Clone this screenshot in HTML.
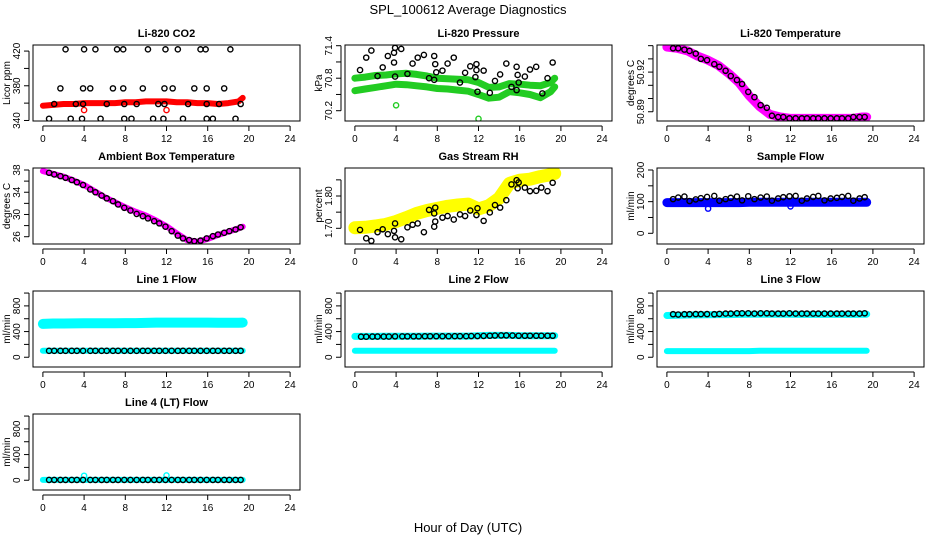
<!DOCTYPE html>
<html><head><meta charset="utf-8"><style>
body{margin:0;background:#fff}
svg{display:block;font-family:"Liberation Sans",sans-serif}
</style></head><body>
<svg id="chart" width="936" height="540" viewBox="0 0 936 540">
<rect width="936" height="540" fill="#fff"/>
<text x="468" y="14" text-anchor="middle" font-size="13">SPL_100612  Average Diagnostics</text>
<text x="468" y="532" text-anchor="middle" font-size="13">Hour of Day (UTC)</text>
</svg>
<script>
const hours=[0.6,1.1,1.7,2.2,2.8,3.3,3.9,4.6,5.1,5.7,6.2,6.8,7.3,7.9,8.5,9.1,9.7,10.2,10.8,11.3,11.9,12.5,13.1,13.6,14.2,14.7,15.3,15.9,16.5,17.0,17.6,18.1,18.7,19.2];
const bandT=[0,1,2,3,4,5,6,7,8,9,10,11,12,13,14,15,16,17,18,19,19.4];
const xTicks=[0,4,8,12,16,20,24];

const co2T=[2.2,4.0,5.1,7.2,7.8,10.2,11.9,13.1,15.3,15.8,18.2, 1.7,3.9,4.6,6.8,7.8,9.7,11.8,12.6,14.7,15.9,17.6, 1.1,3.2,3.9,6.2,7.9,9.1,11.2,11.8,14.1,15.9,17.1,19.2, 0.6,2.7,3.8,5.6,7.9,8.6,10.7,11.7,13.6,15.9,16.5,18.7];
const co2V=[422,422,422,422,422,422,422,422,422,422,422, 377,377,377,377,377,377,377,377,377,377,377, 359,359,359,359,359,359,359,359,359,359,359,359, 342,342,342,342,342,342,342,342,342,342,342,342];
const co2Band=[357,358,359,359,360,360,360,360,361,361,362,362,362,361,361,360,360,359,360,362,366];
const co2OutT=[4.0,12.0];
const co2OutV=[352,352];

const presT=[0.5,1.1,1.6,2.2,2.7,3.2,3.8,3.8,3.9,3.9,4.5,5.1,5.6,6.1,6.7,7.2,7.7,7.8,7.7,7.9,8.5,9.0,9.6,10.2,10.7,11.2,11.8,11.8,11.7,11.9,12.5,13.1,13.6,14.1,14.7,15.2,15.7,15.8,15.9,15.7,16.5,17.0,17.6,18.2,18.7,19.2];
const presV=[70.95,71.18,71.31,70.84,71.0,71.21,71.09,71.27,71.36,70.83,71.34,70.88,71.07,71.18,71.23,70.80,71.21,71.06,70.77,70.91,70.94,71.07,71.18,70.72,70.90,71.02,71.06,70.95,70.82,70.55,70.94,70.53,70.75,70.87,71.07,70.64,71.01,70.86,70.72,70.58,70.83,70.96,71.01,70.52,70.80,71.09];
const presUpper=[70.80,70.82,70.85,70.86,70.88,70.89,70.87,70.84,70.80,70.79,70.78,70.77,70.72,70.63,70.64,70.70,70.69,70.67,70.66,70.72,70.80];
const presLower=[70.57,70.60,70.63,70.66,70.69,70.68,70.66,70.64,70.61,70.60,70.58,70.56,70.50,70.43,70.45,70.55,70.53,70.50,70.44,70.55,70.64];
const presOutT=[4.0,12.0];
const presOutV=[70.30,70.05];

const tempBand=[50.939,50.938,50.936,50.932,50.929,50.925,50.919,50.912,50.902,50.894,50.888,50.886,50.885,50.885,50.885,50.885,50.885,50.885,50.885,50.886,50.886];
const tempV=[50.938,50.938,50.937,50.936,50.934,50.930,50.929,50.926,50.924,50.921,50.917,50.914,50.911,50.905,50.901,50.895,50.893,50.887,50.886,50.886,50.885,50.885,50.885,50.885,50.885,50.885,50.885,50.885,50.885,50.885,50.885,50.886,50.886,50.886];

const ambBand=[37.8,37.3,36.8,36.1,35.3,34.2,33.1,32.2,31.3,30.5,29.8,28.9,27.9,26.6,25.4,25.1,25.6,26.3,26.9,27.5,27.8];
const ambV=[37.5,37.2,36.9,36.6,36.2,35.8,35.3,34.5,34.0,33.4,32.9,32.4,31.8,31.2,30.7,30.1,29.7,29.3,28.8,28.4,27.8,27.0,26.2,25.7,25.4,25.2,25.3,25.7,26.1,26.4,26.7,27.0,27.3,27.7];

const rhT=[0.5,1.1,1.6,2.2,2.7,3.2,3.8,3.9,3.9,4.5,5.1,5.6,6.1,6.7,7.2,7.7,7.8,7.8,7.7,8.5,9.0,9.6,10.2,10.7,11.2,11.8,11.9,12.5,13.1,13.6,14.1,14.7,15.2,15.7,15.8,15.9,16.5,17.0,17.6,18.1,18.7,19.2];
const rhV=[1.695,1.669,1.661,1.688,1.697,1.682,1.692,1.715,1.672,1.666,1.703,1.711,1.715,1.688,1.757,1.746,1.764,1.721,1.705,1.733,1.738,1.727,1.743,1.738,1.755,1.741,1.762,1.723,1.749,1.772,1.764,1.787,1.836,1.849,1.824,1.842,1.826,1.815,1.816,1.826,1.815,1.841];
const rhBand=[1.702,1.703,1.707,1.712,1.721,1.733,1.746,1.755,1.762,1.768,1.772,1.775,1.760,1.770,1.793,1.839,1.849,1.852,1.860,1.866,1.870];

const sampleBand=[97,97,97,97,97,97,97,97,98,98,98,98,98,98,98,98,98,98,98,98,98];
const sampleV=[108,113,116,102,107,111,115,118,103,108,112,116,104,117,108,113,116,103,110,114,117,118,103,110,115,118,104,110,112,115,118,103,110,114];
const sampleOutT=[4.0,12.0];
const sampleOutV=[78,85];

const l1High=[520,525,525,528,530,530,530,530,532,532,535,540,540,540,540,540,540,538,538,538,540];
const l1Low=[100,100,100,100,100,100,100,100,100,100,100,100,100,100,100,100,100,100,100,100,100];
const l1V=[100,100,100,100,100,100,100,100,100,100,100,100,100,100,100,100,100,100,100,100,100,100,100,100,100,100,100,100,100,100,100,100,100,100];
const l2High=[325,325,325,328,328,328,328,330,330,330,330,330,335,340,340,340,335,335,335,335,335];
const l2Low=[100,100,100,100,100,100,100,100,100,100,100,100,100,100,100,100,100,100,100,100,100];
const l2V=[320,320,322,322,322,322,325,325,325,325,325,327,327,327,327,327,328,328,328,330,330,332,335,338,340,340,338,335,335,335,335,335,335,335];
const l3High=[650,655,658,660,662,665,665,668,670,670,670,670,670,668,668,668,668,668,668,670,670];
const l3Low=[95,95,95,95,95,95,95,95,95,100,100,100,100,100,100,100,100,100,100,100,100];
const l3V=[670,665,670,670,672,672,672,670,675,680,680,685,685,685,680,685,685,680,680,680,685,680,680,680,680,680,680,680,680,680,680,680,680,685];
const l4Band=[5,5,5,5,5,5,5,5,5,5,5,5,5,5,5,5,5,5,5,5,5];
const l4V=[5,5,5,5,5,5,5,5,5,5,5,5,5,5,5,5,5,5,5,5,5,5,5,5,5,5,5,5,5,5,5,5,5,5];
const l4OutT=[4.0,12.0];
const l4OutV=[70,75];

const svg=document.getElementById('chart');
const NS='http://www.w3.org/2000/svg';
function mk(tag,attrs,parent){const e=document.createElementNS(NS,tag);for(const k in attrs)e.setAttribute(k,attrs[k]);(parent||svg).appendChild(e);return e;}

const rowTop=[45,168,291,414];
const panels=[
 {c:0,r:0,title:'Li-820 CO2',ylab:'Licor ppm',ymin:339.4,ymax:427,ticks:[340,360,380,400,420],labels:[340,380,420],fmt:v=>String(v)},
 {c:1,r:0,title:'Li-820 Pressure',ylab:'kPa',ymin:70.01,ymax:71.413,ticks:[70.2,70.5,70.8,71.1,71.4],labels:[70.2,70.8,71.4],fmt:v=>v.toFixed(1)},
 {c:2,r:0,title:'Li-820 Temperature',ylab:'degrees C',ymin:50.883,ymax:50.9405,ticks:[50.89,50.9,50.91,50.92,50.93,50.94],labels:[50.89,50.92],fmt:v=>v.toFixed(2)},
 {c:0,r:1,title:'Ambient Box Temperature',ylab:'degrees C',ymin:24.69,ymax:38.36,ticks:[26,28,30,32,34,36,38],labels:[26,30,34,38],fmt:v=>String(v)},
 {c:1,r:1,title:'Gas Stream RH',ylab:'percent',ymin:1.6514,ymax:1.8867,ticks:[1.70,1.75,1.80,1.85],labels:[1.70,1.80],fmt:v=>v.toFixed(2)},
 {c:2,r:1,title:'Sample Flow',ylab:'ml/min',ymin:-33.8,ymax:206.3,ticks:[0,50,100,150,200],labels:[0,100,200],fmt:v=>String(v)},
 {c:0,r:2,title:'Line 1 Flow',ylab:'ml/min',ymin:-152,ymax:1032,ticks:[0,200,400,600,800,1000],labels:[0,400,800],fmt:v=>String(v)},
 {c:1,r:2,title:'Line 2 Flow',ylab:'ml/min',ymin:-152,ymax:1032,ticks:[0,200,400,600,800,1000],labels:[0,400,800],fmt:v=>String(v)},
 {c:2,r:2,title:'Line 3 Flow',ylab:'ml/min',ymin:-152,ymax:1032,ticks:[0,200,400,600,800,1000],labels:[0,400,800],fmt:v=>String(v)},
 {c:0,r:3,title:'Line 4 (LT) Flow',ylab:'ml/min',ymin:-152,ymax:1032,ticks:[0,200,400,600,800,1000],labels:[0,400,800],fmt:v=>String(v)}
];
const W=267,H=76;
function setup(p){
 const L=33+312*p.c, T=rowTop[p.r];
 const g=mk('g',{});
 
 
 p.g=g;
 p.x=t=>L+(t+0.96)/25.92*W;
 p.y=v=>T+H-(v-p.ymin)/(p.ymax-p.ymin)*H;
 const clip=mk('clipPath',{id:'clip'+p.c+p.r},g);
 mk('rect',{x:L,y:T,width:W,height:H},clip);
 p.plot=mk('g',{'clip-path':'url(#clip'+p.c+p.r+')'},g);
 
 
 const box=mk('rect',{x:L,y:T,width:W,height:H,fill:'none',stroke:'#000','stroke-width':1},g);
 
 
 const tt=mk('text',{x:L+W/2,y:T-8,'text-anchor':'middle','font-size':11,'font-weight':'bold'},g);
 tt.textContent=p.title;
 
 
 // x axis
 const ya=T+H+5;
 const xa=mk('g',{},g);
 
 
 mk('line',{x1:p.x(xTicks[0]),x2:p.x(xTicks[xTicks.length-1]),y1:ya,y2:ya,stroke:'#000'},xa);
 xTicks.forEach(t=>{
  mk('line',{x1:p.x(t),x2:p.x(t),y1:ya,y2:ya+5,stroke:'#000'},xa);
  const lb=mk('text',{x:p.x(t),y:ya+16,'text-anchor':'middle','font-size':10},xa);
  lb.textContent=t;
  
  
 });
 // y axis
 const xa2=L-4;
 const yg=mk('g',{},g);
 
 
 mk('line',{x1:xa2,x2:xa2,y1:p.y(p.ticks[0]),y2:p.y(p.ticks[p.ticks.length-1]),stroke:'#000'},yg);
 p.ticks.forEach(v=>{
  mk('line',{x1:xa2-5,x2:xa2,y1:p.y(v),y2:p.y(v),stroke:'#000'},yg);
 });
 p.labels.forEach(v=>{
  const yy=p.y(v);
  const lb=mk('text',{x:0,y:0,'text-anchor':'middle','font-size':10,transform:`translate(${xa2-9},${yy}) rotate(-90)`},yg);
  lb.textContent=p.fmt(v);
  
  
 });
 const yl=mk('text',{x:0,y:0,'text-anchor':'middle','font-size':10,transform:`translate(${L-23},${T+H/2}) rotate(-90)`},g);
 yl.textContent=p.ylab;
 
 
}
panels.forEach(setup);

function band(p,ts,vs,color,w,name){
 const pts=ts.map((t,i)=>p.x(t).toFixed(1)+','+p.y(vs[i]).toFixed(1)).join(' ');
 const pl=mk('polyline',{points:pts,fill:'none',stroke:color,'stroke-width':w,'stroke-linecap':'round','stroke-linejoin':'round'},p.plot);
 
 
}
function pts(p,ts,vs,color,name){
 ts.forEach((t,i)=>{
  const c=mk('circle',{cx:p.x(t),cy:p.y(vs[i]),r:2.6,fill:'none',stroke:color,'stroke-width':1.4},p.plot);
  
  
 });
}
const P=panels;
band(P[0],bandT,co2Band,'#f00',6,'co2-band'); pts(P[0],co2OutT,co2OutV,'#f00','co2-outlier'); pts(P[0],co2T,co2V,'#000','co2-point');
band(P[1],bandT,presUpper,'#22cc22',7,'pressure-band-upper'); band(P[1],bandT,presLower,'#22cc22',7,'pressure-band-lower');
pts(P[1],presOutT,presOutV,'#22cc22','pressure-outlier'); pts(P[1],presT,presV,'#000','pressure-point');
band(P[2],bandT,tempBand,'#f0f',9,'temp-band'); pts(P[2],hours,tempV,'#000','temp-point');
band(P[3],bandT,ambBand,'#f0f',6,'ambient-band'); pts(P[3],hours,ambV,'#000','ambient-point');
band(P[4],bandT,rhBand,'#ffff00',13,'rh-band'); pts(P[4],rhT,rhV,'#000','rh-point');
band(P[5],bandT,sampleBand,'#00f',9,'sample-band'); pts(P[5],sampleOutT,sampleOutV,'#00f','sample-outlier'); pts(P[5],hours,sampleV,'#000','sample-point');
band(P[6],bandT,l1High,'#0ff',10,'line1-band-high'); band(P[6],bandT,l1Low,'#0ff',6,'line1-band-low'); pts(P[6],hours,l1V,'#000','line1-point');
band(P[7],bandT,l2High,'#0ff',7,'line2-band-high'); band(P[7],bandT,l2Low,'#0ff',6,'line2-band-low'); pts(P[7],hours,l2V,'#000','line2-point');
band(P[8],bandT,l3High,'#0ff',7,'line3-band-high'); band(P[8],bandT,l3Low,'#0ff',6,'line3-band-low'); pts(P[8],hours,l3V,'#000','line3-point');
band(P[9],bandT,l4Band,'#0ff',6,'line4-band'); pts(P[9],l4OutT,l4OutV,'#0ff','line4-outlier'); pts(P[9],hours,l4V,'#000','line4-point');
</script>
</body></html>
